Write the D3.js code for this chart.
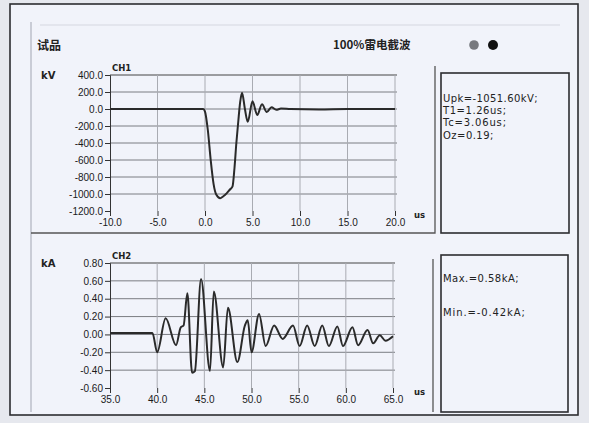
<!DOCTYPE html>
<html>
<head>
<meta charset="utf-8">
<script src="https://cdn.jsdelivr.net/npm/d3@7"></script>
<style>
  body { margin: 0; background: #e6e8ee; }
  svg { display: block; font-family: "DejaVu Sans", sans-serif; }
  .grid-h line { stroke: #7a7c82; stroke-width: 1; }
  .grid-v line { stroke: #a9abb2; stroke-width: 1; }
  .axis text { font-size: 10px; fill: #1a1a1a; }
  .axis path, .axis line { stroke: #333; }
  .wave { fill: none; stroke: #2a2a2a; stroke-width: 2; }
  .info { font-size: 10px; fill: #222; }
</style>
</head>
<body>
<svg id="chart" width="589" height="423"></svg>
<script>
// CH1 voltage (kV) vs time (us)
let ch1Time = [-10, -5, -0.2, 0.0, 0.3, 0.6, 0.9, 1.2, 1.6, 1.9, 2.3, 2.6, 2.9, 3.1, 3.3, 3.5, 3.7, 3.9,
               4.2, 4.5, 5.0, 5.5, 6.0, 6.5, 7.0, 7.5, 8.0, 9.0, 12.0, 15.0, 20.0];
let ch1Volt = [0, 0, 0, -30, -250, -600, -880, -1010, -1050, -1030, -990, -950, -910, -700, -400, -150, 80, 190,
               0, -150, 90, -70, 55, -35, 20, -10, 5, 0, -5, 0, 0];

// CH2 current (kA) vs time (us)
let ch2Time = [35, 39.5, 40.0, 40.9, 42.0, 42.5, 42.8, 43.2, 43.7, 44.0, 44.65, 45.6, 46.0, 47.0, 47.5, 48.5,
               49.3, 49.6, 50.0, 50.8, 51.5, 52.4, 53.3, 54.4, 55.1, 55.9, 56.7, 57.5, 58.2, 59.1, 59.7,
               60.7, 61.3, 62.3, 62.9, 63.6, 64.2, 65.0];
let ch2Curr = [0.015, 0.015, -0.2, 0.18, -0.12, 0.08, 0.1, 0.46, -0.43, -0.41, 0.62, -0.41, 0.48, -0.37, 0.30, -0.31,
               0.1, 0.16, -0.2, 0.23, -0.13, 0.1, -0.05, 0.1, -0.13, 0.1, -0.13, 0.1, -0.13, 0.09, -0.13,
               0.08, -0.12, 0.05, -0.1, -0.01, -0.07, -0.02];

let ch1XTicks = [-10, -5, 0, 5, 10, 15, 20];
let ch1YTicks = [400, 200, 0, -200, -400, -600, -800, -1000, -1200];
let ch2XTicks = [35, 40, 45, 50, 55, 60, 65];
let ch2YTicks = [0.8, 0.6, 0.4, 0.2, 0, -0.2, -0.4, -0.6];

let ch1Info = ["Upk=-1051.60kV;", "T1=1.26us;", "Tc=3.06us;", "Oz=0.19;"];
let ch2Info = ["Max.=0.58kA;", "Min.=-0.42kA;"];

let svg = d3.select("#chart");

// page background and frames
svg.append("rect").attr("x", 10).attr("y", 4).attr("width", 568).attr("height", 411)
    .attr("fill", "#f1f3fa").attr("stroke", "#2c2c30").attr("stroke-width", 1.6);
svg.append("line").attr("x1", 31).attr("x2", 31).attr("y1", 22).attr("y2", 412)
    .attr("stroke", "#c9ccd6").attr("stroke-width", 2);
svg.append("line").attr("x1", 40).attr("x2", 560).attr("y1", 25).attr("y2", 25)
    .attr("stroke", "#e3e5ed").attr("stroke-width", 2);

// header
svg.append("text").attr("x", 37).attr("y", 50).attr("font-size", 12).attr("font-weight", "bold")
    .attr("font-family", "Noto Sans CJK SC").attr("fill", "#222").text("试品");
svg.append("text").attr("x", 333).attr("y", 49).attr("font-size", 11.5).attr("font-weight", "bold")
    .attr("font-family", "Noto Sans CJK SC").attr("fill", "#222").text("100%雷电截波");
svg.append("circle").attr("cx", 474).attr("cy", 45).attr("r", 4.8).attr("fill", "#77797e");
svg.append("circle").attr("cx", 493).attr("cy", 45).attr("r", 5).attr("fill", "#111");

// panel separators
svg.append("path").attr("d", "M435,66V233H31").attr("fill", "none").attr("stroke", "#555").attr("stroke-width", 1.3);
svg.append("line").attr("x1", 433).attr("x2", 433).attr("y1", 259).attr("y2", 412)
    .attr("stroke", "#555").attr("stroke-width", 1.3);

// info boxes
function infoBox(x, y, w, h, lines, y0, dy) {
    svg.append("rect").attr("x", x).attr("y", y).attr("width", w).attr("height", h)
        .attr("fill", "none").attr("stroke", "#2c2c30").attr("stroke-width", 1.6);
    svg.selectAll(null).data(lines).enter().append("text")
        .attr("class", "info")
        .attr("x", x + 2)
        .attr("y", (d, i) => y0 + i * dy)
        .attr("textLength", d => d.length * 6.3)
        .text(d => d);
}
infoBox(441, 73, 128, 160, ch1Info, 102, 12.2);
infoBox(441, 255, 127, 157, ch2Info, 282, 34);

function drawChannel(opt) {
    let x = d3.scaleLinear().domain(opt.xDomain).range([110, opt.xRight]);
    let y = d3.scaleLinear().domain(opt.yDomain).range([opt.top, opt.bottom]);
    let g = svg.append("g");

    // horizontal gridlines (all but the bottom one)
    g.append("g").attr("class", "grid-h")
        .selectAll("line").data(opt.yTicks.slice(0, -1)).enter().append("line")
        .attr("x1", x.range()[0]).attr("x2", x.range()[1] + 2)
        .attr("y1", d => y(d)).attr("y2", d => y(d));
    // vertical gridlines
    g.append("g").attr("class", "grid-v")
        .selectAll("line").data(opt.xTicks.slice(1)).enter().append("line")
        .attr("x1", d => x(d)).attr("x2", d => x(d))
        .attr("y1", opt.top).attr("y2", opt.bottom);
    g.select(".grid-h line").style("stroke", "#444");

    // axes
    g.append("g").attr("class", "axis")
        .attr("transform", "translate(110,0)")
        .call(d3.axisLeft(y).tickValues(opt.yTicks).tickFormat(d => d.toFixed(opt.yDec)).tickSize(5).tickPadding(2));
    let xa = g.append("g").attr("class", "axis")
        .attr("transform", "translate(0," + opt.bottom + ")")
        .call(d3.axisBottom(x).tickValues(opt.xTicks).tickFormat(d => d.toFixed(1)).tickSize(5).tickPadding(3));
    xa.select(".domain").remove();
    xa.selectAll("text").attr("font-size", "10.5px");

    // labels
    g.append("text").attr("x", 41).attr("y", opt.top + 4).attr("font-size", 10).attr("font-weight", "bold")
        .attr("fill", "#222").text(opt.unit);
    g.append("text").attr("x", 112).attr("y", opt.top - 4).attr("font-size", 8.5).attr("font-weight", "bold")
        .attr("fill", "#222").text(opt.name);
    g.append("text").attr("x", 414).attr("y", opt.bottom + 7).attr("font-size", 8.5).attr("font-weight", "bold")
        .attr("fill", "#222").text("us");

    // waveform
    let line = d3.line().x(d => x(d[0])).y(d => y(d[1])).curve(d3.curveMonotoneX);
    g.append("path").attr("class", "wave")
        .datum(d3.zip(opt.t, opt.v))
        .attr("d", line);
}

drawChannel({
    name: "CH1", unit: "kV", t: ch1Time, v: ch1Volt,
    xDomain: [-10, 20], xRight: 395, yDomain: [400, -1200], top: 75, bottom: 211,
    xTicks: ch1XTicks, yTicks: ch1YTicks, yDec: 1
});
drawChannel({
    name: "CH2", unit: "kA", t: ch2Time, v: ch2Curr,
    xDomain: [35, 65], xRight: 393, yDomain: [0.8, -0.6], top: 263, bottom: 388,
    xTicks: ch2XTicks, yTicks: ch2YTicks, yDec: 2
});
</script>
</body>
</html>
